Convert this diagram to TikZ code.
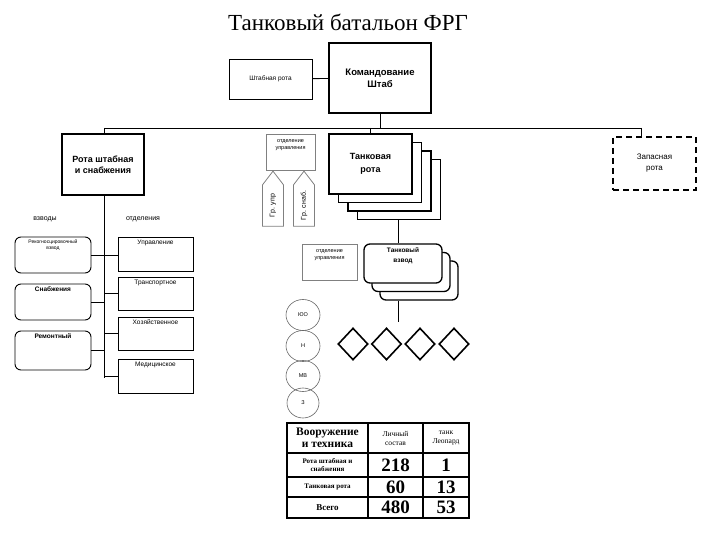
\documentclass[tikz,border=0pt]{standalone}
\usepackage{fontspec}
\setmainfont{Liberation Serif}
\newfontfamily\boxfont{Liberation Sans}
\usetikzlibrary{shapes.geometric,shapes.symbols}
\tikzset{
  box/.style={draw, line width=1.3pt, fill=white, align=center, inner sep=1pt, font=\boxfont\bfseries\fontsize{9}{11}\selectfont},
  thinbox/.style={draw, line width=0.8pt, align=center, inner sep=1pt, font=\boxfont\fontsize{6.5}{8}\selectfont},
  graybox/.style={draw=gray, line width=0.8pt, align=center, inner sep=1pt, font=\boxfont\fontsize{5.5}{7}\selectfont},
  roundbox/.style={draw, line width=0.9pt, rounded corners=6pt, fill=white, minimum width=76pt},
  otdbox/.style={draw, line width=1pt, minimum width=75pt},
  toptext/.style={anchor=north, inner sep=3pt, font=\boxfont\fontsize{6.5}{8}\selectfont, align=center},
  group/.style={draw=gray, line width=0.8pt, signal, signal to=east, signal pointer angle=75, rotate=90,
    minimum width=55pt, minimum height=21pt, inner sep=1pt, font=\boxfont\fontsize{7}{8}\selectfont},
  crew/.style={draw=gray!80!black, line width=0.6pt, ellipse, minimum width=34pt, minimum height=31pt, inner sep=0pt, font=\boxfont\fontsize{5.5}{6}\selectfont},
  tank/.style={draw, line width=1.6pt, diamond, minimum width=30pt, minimum height=32pt, inner sep=0pt},
  cell/.style={draw, line width=1.3pt, align=center, inner sep=0pt, font=\bfseries\fontsize{7}{8}\selectfont},
  num/.style={cell, font=\bfseries\fontsize{19}{20}\selectfont},
  conn/.style={line width=0.9pt}
}
\begin{document}
\begin{tikzpicture}[x=1pt, y=-1pt]
\useasboundingbox (0,0) rectangle (720,540);
\node (title) at (348,22) {\fontsize{23}{26}\selectfont Танковый батальон ФРГ};

% top level
\node[thinbox, minimum width=83pt, minimum height=40pt] (shtab) at (270.5,79) {Штабная рота};
\node[box, minimum width=102pt, minimum height=70pt, font=\boxfont\bfseries\fontsize{9.5}{12}\selectfont] (komand) at (380,78) {Командование\\Штаб};
\node[box, minimum width=82pt, minimum height=61pt] (rotash) at (103,164.5) {Рота штабная\\и снабжения};
\node[box, dash pattern=on 6pt off 4pt, line width=1.8pt, minimum width=83pt, minimum height=53pt, font=\boxfont\fontsize{8}{11}\selectfont] (zapas) at (654.5,163.5) {Запасная\\рота};

% tank companies
\node[box, minimum width=83pt, minimum height=60pt] (rota4) at (399,189.5) {};
\node[box, minimum width=83pt, minimum height=60pt] (rota3) at (389.5,181) {};
\node[box, minimum width=83pt, minimum height=60pt] (rota2) at (380,172.5) {};
\node[box, minimum width=83pt, minimum height=60pt, font=\boxfont\bfseries\fontsize{9}{13}\selectfont] (rota1) at (370.5,164) {Танковая\\рота};
\node[graybox, minimum width=49pt, minimum height=36pt] (otdupr1) at (290.5,152) {отделение\\управления\\[8pt]};
\node[group] (grupr) at (273,205.5) {Гр. упр};
\node[group] (grsnab) at (304,205.5) {Гр. снаб.};

% tank platoons
\node[box, rounded corners=6pt, minimum width=78pt, minimum height=39pt] (vzvod3) at (419,280.5) {};
\node[box, rounded corners=6pt, minimum width=78pt, minimum height=39pt] (vzvod2) at (411,272) {};
\node[box, rounded corners=6pt, minimum width=78pt, minimum height=39pt, font=\boxfont\bfseries\fontsize{6.5}{10}\selectfont] (vzvod1) at (403,263.5) {Танковый\\взвод\\[6pt]};
\node[graybox, minimum width=55pt, minimum height=36pt] (otdupr2) at (329.5,262) {отделение\\управления\\[8pt]};
\coordinate (tankend) at (398,322);

% crew and tanks
\node[crew] (yuo) at (303,315) {ЮО};
\node[crew] (nav) at (303,346) {Н};
\node[crew] (mv) at (303,376) {МВ};
\node[crew, minimum width=32pt, minimum height=30pt] (zar) at (303,403) {З};
\node[tank] (tank1) at (353,344) {};
\node[tank] (tank2) at (386.5,344) {};
\node[tank] (tank3) at (420,344) {};
\node[tank] (tank4) at (454,344) {};

% platoons and sections of HQ company
\node[font=\boxfont\fontsize{7}{8}\selectfont] (hvz) at (45,219) {взводы};
\node[font=\boxfont\fontsize{7}{8}\selectfont] (hotd) at (143,219) {отделения};
\node[roundbox, minimum height=36pt, label={[toptext, font=\boxfont\fontsize{5}{6.5}\selectfont]north:Рекогносцировочный\\взвод}] (vz1) at (53,255) {};
\node[roundbox, minimum height=36pt, label={[toptext, font=\boxfont\bfseries\fontsize{6.5}{8}\selectfont]north:Снабжения}] (vz2) at (53,302) {};
\node[roundbox, minimum height=39pt, label={[toptext, font=\boxfont\bfseries\fontsize{6.5}{8}\selectfont]north:Ремонтный}] (vz3) at (53,350.5) {};
\node[otdbox, minimum height=34pt, label={[toptext]north:Управление}] (otd1) at (155.5,254) {};
\node[otdbox, minimum height=33pt, label={[toptext]north:Транспортное}] (otd2) at (155.5,293.5) {};
\node[otdbox, minimum height=33pt, label={[toptext]north:Хозяйственное}] (otd3) at (155.5,333.5) {};
\node[otdbox, minimum height=34pt, label={[toptext]north:Медицинское}] (otd4) at (155.5,376) {};
\coordinate (vbot) at (104,378);

% connectors
\coordinate (busL) at (104,128);
\coordinate (busR) at (641,128);
\draw[conn] (shtab) -- (komand);
\draw[conn] (komand.south) -- (komand.south |- busL);
\draw[conn] (busL) -- (busR);
\draw[conn] (busL) -- (busL |- rotash.north);
\draw[conn] (busR) -- (busR |- zapas.north);
\draw[conn] (rota1.north |- busL) -- (rota1.north);
\draw[conn] (busL |- rotash.south) -- (vbot);
\draw[conn] (vz1.east) -- (vz1.east -| otd1.west);
\draw[conn] (vz2.east) -- (vz2.east -| vbot);
\draw[conn] (vz3.east) -- (vz3.east -| vbot);
\draw[conn] (otd2.west -| vbot) -- (otd2.west);
\draw[conn] (otd3.west -| vbot) -- (otd3.west);
\draw[conn] (otd4.west -| vbot) -- (otd4.west);
\draw[conn] (tankend |- rota4.south) -- (tankend |- vzvod1.north);
\draw[conn] (tankend |- vzvod3.south) -- (tankend);

% table
\node[cell, minimum width=81pt, minimum height=30pt, font=\bfseries\fontsize{11.5}{12}\selectfont] (t11) at (327.5,438) {Вооружение\\и техника};
\node[cell, minimum width=55pt, minimum height=30pt, font=\fontsize{7.5}{9}\selectfont] (t12) at (395.5,438) {Личный\\состав};
\node[cell, minimum width=46pt, minimum height=30pt, font=\fontsize{7.5}{9}\selectfont] (t13) at (446,438) {танк\\Леопард};
\node[cell, minimum width=81pt, minimum height=24pt] (t21) at (327.5,465) {Рота штабная и\\снабжения};
\node[num, minimum width=55pt, minimum height=24pt] (t22) at (395.5,465) {218};
\node[num, minimum width=46pt, minimum height=24pt] (t23) at (446,465) {1};
\node[cell, minimum width=81pt, minimum height=20pt] (t31) at (327.5,487) {Танковая рота};
\node[num, minimum width=55pt, minimum height=20pt] (t32) at (395.5,487) {60};
\node[num, minimum width=46pt, minimum height=20pt] (t33) at (446,487) {13};
\node[cell, minimum width=81pt, minimum height=21pt, font=\bfseries\fontsize{9}{10}\selectfont] (t41) at (327.5,507.5) {Всего};
\node[num, minimum width=55pt, minimum height=21pt] (t42) at (395.5,507.5) {480};
\node[num, minimum width=46pt, minimum height=21pt] (t43) at (446,507.5) {53};
\end{tikzpicture}
\end{document}
